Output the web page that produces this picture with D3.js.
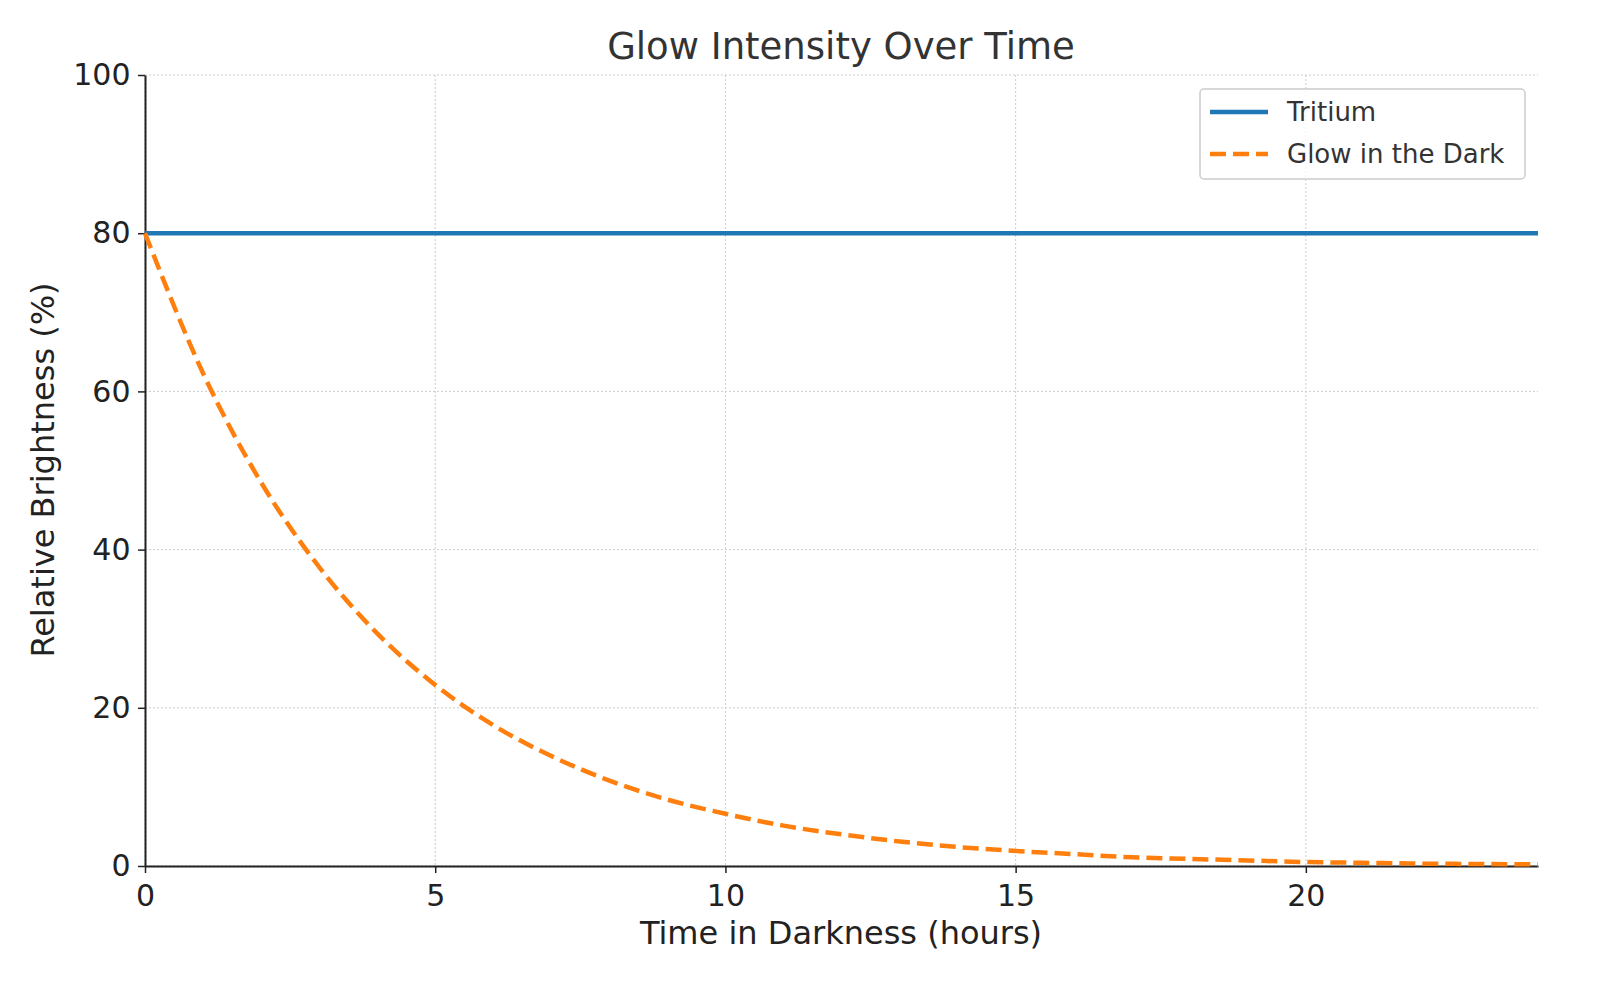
<!DOCTYPE html>
<html><head><meta charset="utf-8">
<script src="https://cdn.jsdelivr.net/npm/d3@7"></script>
<style>body{margin:0;background:#fff;font-family:"DejaVu Sans",sans-serif;}</style>
</head><body><svg id="c" width="1600" height="1000"></svg>
<script>
const hours = d3.range(0, 25);
const tritium = hours.map(() => 80);
const glow = [80, 62.3, 48.5, 37.8, 29.4, 22.9, 17.8, 13.9, 10.8, 8.4, 6.6, 5.1, 4.0, 3.1, 2.4, 1.9, 1.5, 1.1, 0.9, 0.7, 0.5, 0.4, 0.3, 0.25, 0.2];
const xTicks = [0, 5, 10, 15, 20];
const yTicks = [0, 20, 40, 60, 80, 100];
const seriesNames = ["Tritium", "Glow in the Dark"];

const svg = d3.select("#c");
const L = 145, R = 1538, T = 75, B = 866;
const x = d3.scaleLinear().domain([0, 24]).range([L, R]);
const y = d3.scaleLinear().domain([0, 100]).range([B, T]);

const g = svg.append("g");
g.selectAll(".gx").data(xTicks).join("line").attr("x1", d => x(d)).attr("x2", d => x(d)).attr("y1", T).attr("y2", B)
  .attr("stroke", "#ccc").attr("stroke-width", 1).attr("stroke-dasharray", "2,2");
g.selectAll(".gy").data(yTicks).join("line").attr("y1", d => y(d)).attr("y2", d => y(d)).attr("x1", L).attr("x2", R)
  .attr("stroke", "#ccc").attr("stroke-width", 1).attr("stroke-dasharray", "2,2");

const xa = svg.append("g").attr("transform", `translate(0,${B})`).call(d3.axisBottom(x).tickValues(xTicks).tickSize(7).tickSizeOuter(0));
const ya = svg.append("g").attr("transform", `translate(${L},0)`).call(d3.axisLeft(y).tickValues(yTicks).tickSize(7).tickSizeOuter(0));
[xa, ya].forEach(a => {
  a.select(".domain").attr("stroke", "#222").attr("stroke-width", 2);
  a.selectAll(".tick line").attr("stroke", "#222").attr("stroke-width", 1.5);
  a.selectAll("text").attr("font-size", 30).attr("fill", "#222").attr("font-family", "DejaVu Sans");
});
xa.selectAll("text").attr("dy", "1.0em");
ya.selectAll("text").attr("dx", "-0.15em");

const line = d3.line().x((d, i) => x(hours[i])).y(d => y(d)).curve(d3.curveMonotoneX);
svg.append("path").attr("d", line(tritium)).attr("fill", "none").attr("stroke", "#1f77b4").attr("stroke-width", 4.5);
svg.append("path").attr("d", line(glow)).attr("fill", "none").attr("stroke", "#ff7f0e").attr("stroke-width", 4.5).attr("stroke-dasharray", "16,7");

svg.append("text").attr("x", 841).attr("y", 59).attr("text-anchor", "middle").attr("font-size", 37).attr("fill", "#333").text("Glow Intensity Over Time");
svg.append("text").attr("x", 841).attr("y", 944).attr("text-anchor", "middle").attr("font-size", 32).attr("fill", "#222").text("Time in Darkness (hours)");
svg.append("text").attr("transform", "translate(54,470) rotate(-90)").attr("text-anchor", "middle").attr("font-size", 32).attr("fill", "#222").text("Relative Brightness (%)");

const lg = svg.append("g");
lg.append("rect").attr("x", 1200).attr("y", 89).attr("width", 325).attr("height", 90).attr("rx", 4)
  .attr("fill", "#fff").attr("fill-opacity", 0.8).attr("stroke", "#ccc").attr("stroke-width", 1.5);
const colors = ["#1f77b4", "#ff7f0e"], dashes = [null, "16,7"];
seriesNames.forEach((n, i) => {
  const yy = 112 + i * 42;
  lg.append("line").attr("x1", 1210).attr("x2", 1268).attr("y1", yy).attr("y2", yy).attr("stroke", colors[i]).attr("stroke-width", 4.5).attr("stroke-dasharray", dashes[i]);
  lg.append("text").attr("x", 1287).attr("y", yy + 9).attr("font-size", 26).attr("fill", "#333").text(n);
});
</script></body></html>
